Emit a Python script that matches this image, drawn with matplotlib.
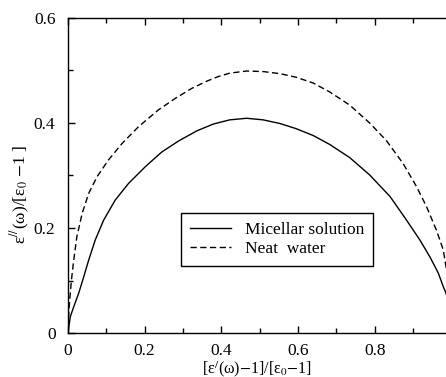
import matplotlib

matplotlib.use("Agg")
import matplotlib.pyplot as plt
from matplotlib.ticker import MultipleLocator

plt.rcParams["font.family"] = ["Liberation Serif", "DejaVu Serif"]
plt.rcParams["mathtext.fontset"] = "stix"

# Cole-Cole plot, values
water_x = [0.0, 0.003, 0.009, 0.015, 0.023, 0.037, 0.054, 0.076, 0.106, 0.141, 0.184,
           0.236, 0.28, 0.323, 0.36, 0.39, 0.422, 0.466, 0.509, 0.553, 0.596, 0.64,
           0.683, 0.735, 0.787, 0.831, 0.874, 0.909, 0.935, 0.961, 0.979, 0.986, 0.995]
water_y = [0.01, 0.05, 0.101, 0.139, 0.183, 0.228, 0.266, 0.298, 0.33, 0.361, 0.393,
           0.425, 0.447, 0.466, 0.479, 0.488, 0.495, 0.499, 0.498, 0.494, 0.487, 0.476,
           0.459, 0.434, 0.400, 0.366, 0.323, 0.279, 0.241, 0.196, 0.158, 0.126, 0.09]

mic_x = [0.0, 0.006, 0.015, 0.028, 0.041, 0.054, 0.071, 0.093, 0.123, 0.158, 0.202,
         0.245, 0.289, 0.336, 0.379, 0.422, 0.466, 0.509, 0.553, 0.596, 0.64,
         0.683, 0.735, 0.787, 0.84, 0.883, 0.918, 0.944, 0.966, 0.979, 0.986, 0.995]
mic_y = [0.0, 0.031, 0.05, 0.076, 0.107, 0.139, 0.177, 0.215, 0.253, 0.285, 0.317,
         0.345, 0.366, 0.385, 0.398, 0.406, 0.409, 0.406, 0.399, 0.389, 0.376,
         0.359, 0.334, 0.301, 0.26, 0.215, 0.177, 0.145, 0.114, 0.088, 0.076, 0.05]

fig = plt.figure(figsize=(4.46, 3.77), dpi=100)
ax = fig.add_axes([68 / 446, 1 - 333 / 377, 1 - 68 / 446, 315 / 377])

ax.plot(mic_x, mic_y, color="black", lw=1.0, label="Micellar solution")
ax.plot(water_x, water_y, color="black", lw=1.0, dashes=(4.5, 2.5), label="Neat  water")

ax.set_xlim(0, 0.986)
ax.set_ylim(0, 0.6)
ax.spines["right"].set_visible(False)
for s in ["left", "bottom", "top"]:
    ax.spines[s].set_linewidth(1.0)

ax.xaxis.set_minor_locator(MultipleLocator(0.1))
ax.yaxis.set_minor_locator(MultipleLocator(0.1))
ax.set_xticks([0, 0.2, 0.4, 0.6, 0.8])
ax.set_xticklabels(["0", "0.2", "0.4", "0.6", "0.8"])
ax.set_yticks([0, 0.2, 0.4, 0.6])
ax.set_yticklabels(["0", "0.2", "0.4", "0.6"])
ax.tick_params(which="both", direction="in", top=True, right=False, labelsize=12.5)
ax.tick_params(which="major", length=5, width=1.0)
ax.tick_params(which="minor", length=3.5, width=1.0)
ax.tick_params(axis="x", pad=7)
ax.tick_params(axis="y", pad=9)

ax.set_xlabel(r"[ε$^{/}$(ω)$-$1]/[ε$_0$$-$1]", fontsize=11.5, labelpad=0)
ax.set_ylabel(r"ε$^{//}$(ω)/[ε$_0$ $-$1 ]", fontsize=12.5)
ax.yaxis.set_label_coords(-0.095, 0.44)

leg = ax.legend(loc="upper left", bbox_to_anchor=(0.299, 0.381), borderaxespad=0,
                fontsize=12.5, fancybox=False, edgecolor="black", framealpha=1,
                handlelength=2.4, handletextpad=0.8, borderpad=0.5, labelspacing=0.2)
leg.get_frame().set_linewidth(1.0)

plt.savefig("out.png", dpi=100)
